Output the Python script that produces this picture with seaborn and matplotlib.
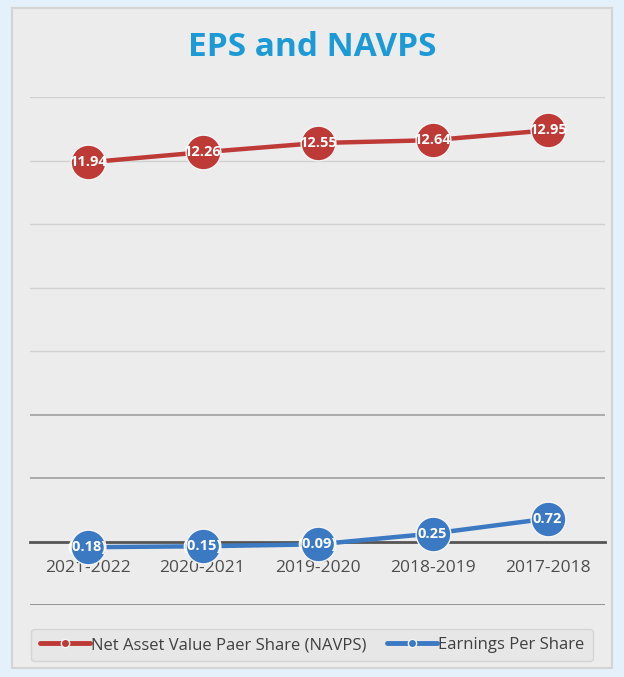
import matplotlib
matplotlib.use("Agg")
import matplotlib.pyplot as plt
import seaborn as sns
import pandas as pd
from matplotlib.patches import Rectangle

periods = ["2021-2022", "2020-2021", "2019-2020", "2018-2019", "2017-2018"]
navps = [11.94, 12.26, 12.55, 12.64, 12.95]
eps = [-0.18, -0.15, -0.09, 0.25, 0.72]
navps_name = "Net Asset Value Paer Share (NAVPS)"
eps_name = "Earnings Per Share"
title = "EPS and NAVPS"

def fmt(v):
    return f"({abs(v):.2f})" if v < 0 else f"{v:.2f}"

df = pd.DataFrame({
    "Period": periods * 2,
    "Value": navps + eps,
    "Series": [navps_name] * len(periods) + [eps_name] * len(periods),
})

sns.set_theme(style="white")
plt.rcParams["font.family"] = ["Open Sans", "DejaVu Sans"]

fig = plt.figure(figsize=(6.24, 6.77), dpi=100)
fig.patch.set_facecolor("#e4f1fa")
panel = Rectangle((12 / 624, 9 / 677), 600 / 624, 660 / 677,
                  transform=fig.transFigure, facecolor="#ececec",
                  edgecolor="#d4d4d4", lw=1.5, zorder=-5)
fig.add_artist(panel)
ax = fig.add_axes([30 / 624, 1 - 605 / 677, 575 / 624, 508 / 677])
ax.set_zorder(2)
ax.set_facecolor("none")

palette = {navps_name: "#be3a37", eps_name: "#3b79c3"}
sns.lineplot(data=df, x="Period", y="Value", hue="Series", palette=palette,
             marker="o", markersize=25, linewidth=3.2, markeredgecolor="#f5f5f5",
             markeredgewidth=1.0, ax=ax, sort=False, zorder=3)

ax.set_xlim(-0.5, len(periods) - 0.5)
ax.set_ylim(-2, 14)
ax.set_yticks(range(-2, 15, 2))
for y in range(-2, 15, 2):
    if y == 0:
        continue
    col = "#d0d0d0" if y >= 6 else "#a6a6a6"
    if y == -2:
        col = "#8c8c8c"
    ax.axhline(y, color=col, lw=1.3 if y < 6 else 1.0, zorder=1)
ax.set_yticklabels([])
ax.tick_params(axis="y", length=0)
for s in ["top", "right", "left"]:
    ax.spines[s].set_visible(False)
ax.spines["bottom"].set_position(("data", 0))
ax.spines["bottom"].set_color("#555555")
ax.spines["bottom"].set_linewidth(2)
ax.spines["bottom"].set_zorder(2)
ax.tick_params(axis="x", length=0, pad=13, labelsize=12.5, labelcolor="#4d4d4d")
ax.set_xlabel("")
ax.set_ylabel("")

for i, v in enumerate(navps):
    ax.annotate(fmt(v), (i, v), ha="center", va="center", color="white",
                fontsize=10.5, fontweight="bold", zorder=5)
for i, v in enumerate(eps):
    ax.annotate(fmt(v), (i, v), ha="center", va="center", color="white",
                fontsize=10.5, fontweight="bold", zorder=5)

fig.text(0.5, 1 - 48 / 677, title, ha="center", va="center", color="#1b9ad6",
         fontsize=24, fontweight="bold")

handles, labels = ax.get_legend_handles_labels()
ax.legend_.remove()
for h in handles:
    h.set_markersize(6)
    h.set_linewidth(3.5)
leg = fig.legend(handles, labels, loc="center", ncol=2,
                 bbox_to_anchor=(0.5, 1 - 645 / 677), frameon=True,
                 fontsize=12, handlelength=3.0, handletextpad=0.1,
                 columnspacing=1.2, borderpad=0.5)
leg.get_frame().set_facecolor("#e6e6e6")
leg.get_frame().set_edgecolor("#cfcfcf")
for t in leg.get_texts():
    t.set_color("#404040")

fig.savefig("out.png", dpi=100, facecolor=fig.get_facecolor())
